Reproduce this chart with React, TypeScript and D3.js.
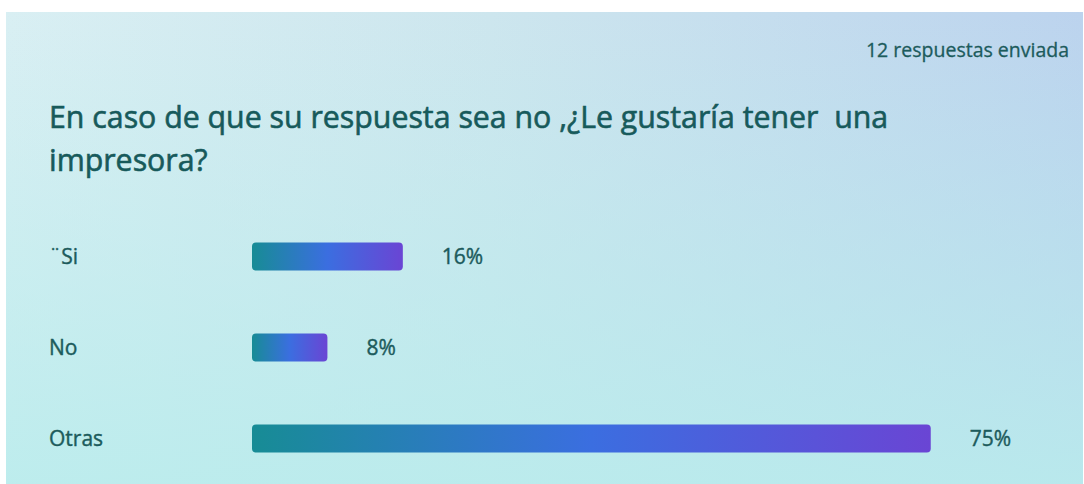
import * as d3 from "d3";

// Respuestas por opción (12 en total)
const categories = ["¨Si", "No", "Otras"];
const counts = [2, 1, 9];
const totalResponses = 12;
const titleLines = [
  "En caso de que su respuesta sea no ,¿Le gustaría tener  una",
  "impresora?",
];
const responsesLabel = `${totalResponses} respuestas enviada`;

const width = 1084;
const height = 484;
const font = "'Open Sans', 'Noto Sans', sans-serif";
const textColor = "#1c5b5c";

export default function App() {
  const data = categories.map((c, i) => ({ label: c, share: counts[i] / totalResponses }));

  const x = d3.scaleLinear().domain([0, 1]).range([252, 1157]);
  const y = d3.scaleBand<string>().domain(categories).range([211, 484]).padding(0);
  const barH = 28;

  return (
    <svg
      width={width}
      height={height}
      style={{ position: "absolute", left: 0, top: 0, display: "block" }}
      fontFamily={font}
    >
      <defs>
        <linearGradient id="bgH" x1="0" y1="0" x2="1" y2="0">
          <stop offset="0%" stopColor="#d9eff3" />
          <stop offset="45%" stopColor="#cde6ee" />
          <stop offset="100%" stopColor="#bcd3ee" />
        </linearGradient>
        <linearGradient id="bgV" x1="0" y1="0" x2="0" y2="1">
          <stop offset="0%" stopColor="#b8ecec" stopOpacity="0" />
          <stop offset="100%" stopColor="#b8ecec" stopOpacity="0.85" />
        </linearGradient>
        <linearGradient id="bar" x1="0" y1="0" x2="1" y2="0">
          <stop offset="0%" stopColor="#178c95" />
          <stop offset="50%" stopColor="#3b6ee0" />
          <stop offset="100%" stopColor="#6a45d4" />
        </linearGradient>
      </defs>

      <rect width={width} height={height} fill="#ffffff" />
      <rect x={6} y={12} width={width - 7} height={height - 12} fill="url(#bgH)" />
      <rect x={6} y={12} width={width - 7} height={height - 12} fill="url(#bgV)" />

      <text x={1069} y={57} textAnchor="end" fontSize={19.5} fill={textColor}
        stroke={textColor} strokeWidth={0.3}>
        {responsesLabel}
      </text>

      {titleLines.map((line, i) => (
        <text
          key={i}
          x={49}
          y={128 + i * 43}
          fontSize={30.3}
          fill="#175a5b"
          stroke="#175a5b"
          strokeWidth={0.6}
          style={{ whiteSpace: "pre" }}
        >
          {line}
        </text>
      ))}

      {data.map((d) => {
        const cy = (y(d.label) ?? 0) + y.bandwidth() / 2;
        return (
          <g key={d.label}>
            <text x={49} y={cy} dy="0.38em" fontSize={21} fill={textColor}
              stroke={textColor} strokeWidth={0.4}>
              {d.label}
            </text>
            <rect
              x={x(0)}
              y={cy - barH / 2}
              width={x(d.share) - x(0)}
              height={barH}
              rx={4}
              fill="url(#bar)"
            />
            <text x={x(d.share) + 39} y={cy} dy="0.38em" fontSize={21} fill={textColor}
              stroke={textColor} strokeWidth={0.4}>
              {`${Math.floor(d.share * 100)}%`}
            </text>
          </g>
        );
      })}
    </svg>
  );
}
